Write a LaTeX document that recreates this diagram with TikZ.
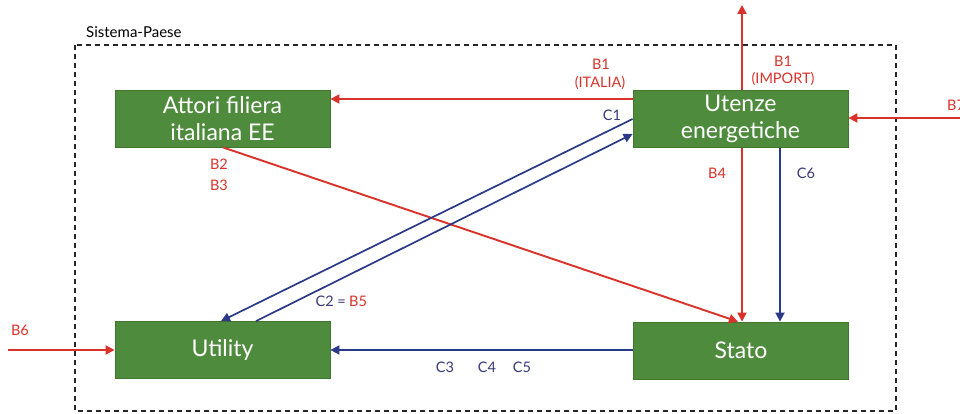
\documentclass[tikz,border=0pt]{standalone}
\usepackage{fontspec}
\setmainfont{Lato}
\usetikzlibrary{arrows.meta}
\definecolor{boxgreen}{HTML}{4F8B3D}
\definecolor{boxedge}{HTML}{41762F}
\definecolor{ared}{HTML}{D8322A}
\definecolor{ablue}{HTML}{2A3A88}
\definecolor{lblue}{HTML}{3A3A78}
\tikzset{
  actor/.style={rectangle, draw=boxedge, line width=0.8pt, fill=boxgreen, text=white,
    minimum width=215pt, minimum height=57pt, align=center, inner sep=0pt,
    font=\fontsize{23}{27}\selectfont},
  redarrow/.style={draw=ared, line width=1.9pt, -{Triangle[length=9pt,width=9pt]}},
  bluearrow/.style={draw=ablue, line width=1.7pt, -{Triangle[length=9pt,width=9pt]}},
  redlbl/.style={text=ared, font=\fontsize{14.5}{17}\selectfont, inner sep=0pt, align=center},
  bluelbl/.style={text=lblue, font=\fontsize{14.5}{17}\selectfont, inner sep=0pt},
  frame/.style={draw=black!85, line width=1.2pt, dash pattern=on 5pt off 4pt}
}
\begin{document}
\begin{tikzpicture}[x=1pt,y=-1pt]
\useasboundingbox (0,0) rectangle (960,414);
% frame
\draw[frame] (75,45) rectangle (896,411);
\node[anchor=west, font=\fontsize{15}{17}\selectfont, inner sep=0pt] (sp) at (86,32) {Sistema-Paese};
% boxes
\node[actor] (attori) at (222.5,118.5) {Attori filiera\\italiana EE};
\node[actor] (utenze) at (740.5,119) {Utenze\\energetiche};
\node[actor] (utility) at (222.5,350) {Utility};
\node[actor] (stato) at (741,350.5) {Stato};
% free ends
\coordinate (importend) at (742,5);
\coordinate (b7start) at (965,118);
\coordinate (b6start) at (8,350);
% connectors
\draw[redarrow] (utenze.west |- 0,99) -- (attori.east |- 0,99);
\draw[redarrow] (utenze.north -| 742,0) -- (importend);
\draw[redarrow] (b7start) -- (utenze.east |- 0,118);
\draw[redarrow] (attori.south -| 223,0) -- (stato.north -| 738,0);
\draw[redarrow] (utenze.south -| 742,0) -- (stato.north -| 742,0);
\draw[bluearrow] (utenze.south -| 780,0) -- (stato.north -| 780,0);
\draw[bluearrow] (utenze.west |- 0,119) -- (utility.north -| 221,0);
\draw[bluearrow] (utility.north -| 256,0) -- (utenze.west |- 0,134);
\draw[bluearrow] (stato.west |- 0,350) -- (utility.east |- 0,350);
\draw[redarrow] (b6start) -- (utility.west);
% labels
\node[redlbl] (lb1a) at (601,64) {B1};
\node[redlbl] (lb1b) at (600,83) {(ITALIA)};
\node[redlbl] (lb1c) at (783,61) {B1};
\node[redlbl] (lb1d) at (783,79) {(IMPORT)};
\node[redlbl, anchor=west] (lb7) at (947,105) {B7};
\node[bluelbl] (lc1) at (612,115) {C1};
\node[redlbl] (lb2) at (219,164) {B2};
\node[redlbl] (lb3) at (219,185) {B3};
\node[redlbl] (lb4) at (717,173) {B4};
\node[bluelbl] (lc6) at (806,173) {C6};
\node[bluelbl, anchor=east] (lc2) at (346,301) {C2 =};
\node[redlbl, anchor=west] (lb5) at (349,301) {B5};
\node[bluelbl] (lc3) at (445,367) {C3};
\node[bluelbl] (lc4) at (487,367) {C4};
\node[bluelbl] (lc5) at (522,367) {C5};
\node[redlbl] (lb6) at (20,330) {B6};
\end{tikzpicture}
\end{document}
